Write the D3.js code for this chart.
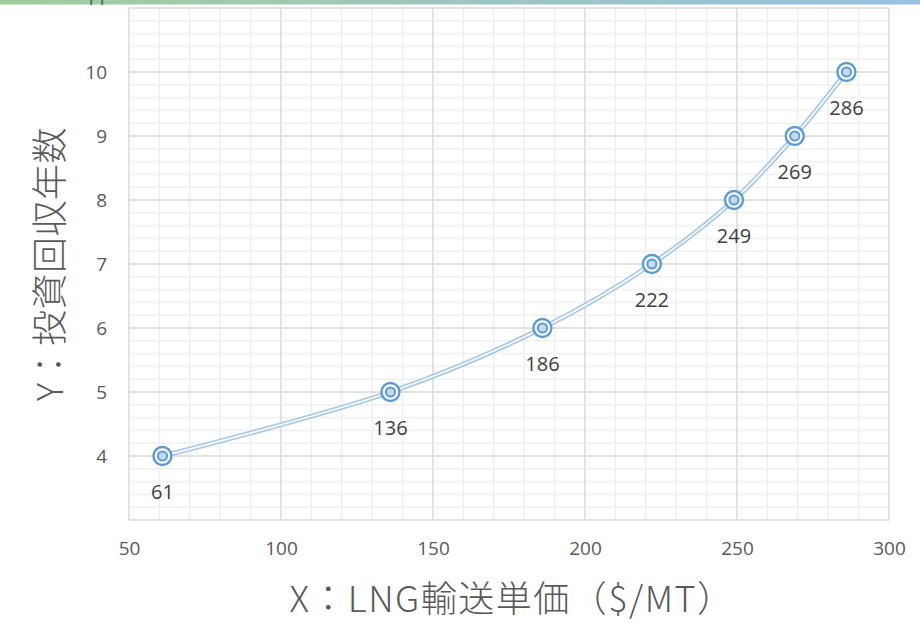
<!DOCTYPE html>
<html>
<head>
<meta charset="utf-8">
<script src="https://cdn.jsdelivr.net/npm/d3@7"></script>
<style>
  html, body { margin: 0; padding: 0; background: #fff; }
  svg { display: block; }
</style>
</head>
<body>
<svg id="chart" width="920" height="623"></svg>
<script>
// Transport unit price (X) and resulting payback years (Y)
const unitPrices = [61, 136, 186, 222, 249, 269, 286];
const paybackYears = [4, 5, 6, 7, 8, 9, 10];
const xTicks = [50, 100, 150, 200, 250, 300];
const yTicks = [4, 5, 6, 7, 8, 9, 10, 11];
const xTitle = "X：LNG輸送単価（$/MT）";
const yTitle = "Y：投資回収年数";

const svg = d3.select("#chart");
const W = 920, H = 623;
const plot = { left: 129, right: 889, top: 8, bottom: 520 };

const x = d3.scaleLinear().domain([50, 300]).range([plot.left, plot.right]);
const y = d3.scaleLinear().domain([3, 11]).range([plot.bottom, plot.top]);

// top banner gradient
const defs = svg.append("defs");
const grad = defs.append("linearGradient").attr("id", "banner").attr("x1", 0).attr("x2", 1);
grad.append("stop").attr("offset", 0).attr("stop-color", "#9dcf9b");
grad.append("stop").attr("offset", 1).attr("stop-color", "#9ac1e4");

// minor grid
const minorX = d3.range(50, 301, 10).filter(v => v % 50 !== 0);
const minorY = d3.range(3, 11.001, 0.2).map(v => +v.toFixed(1)).filter(v => Math.abs(v - Math.round(v)) > 1e-6);
const grid = svg.append("g");
grid.selectAll(".mx").data(minorX).join("line")
  .attr("x1", d => x(d)).attr("x2", d => x(d))
  .attr("y1", plot.top).attr("y2", plot.bottom)
  .attr("stroke", "#f0f0f0").attr("stroke-width", 1.5);
grid.selectAll(".my").data(minorY).join("line")
  .attr("x1", plot.left).attr("x2", plot.right)
  .attr("y1", d => y(d)).attr("y2", d => y(d))
  .attr("stroke", "#f0f0f0").attr("stroke-width", 1.5);
// major grid
grid.selectAll(".Mx").data(xTicks).join("line")
  .attr("x1", d => x(d)).attr("x2", d => x(d))
  .attr("y1", plot.top).attr("y2", plot.bottom)
  .attr("stroke", "#d9d9d9").attr("stroke-width", 1.5);
grid.selectAll(".My").data(d3.range(3, 12)).join("line")
  .attr("x1", plot.left).attr("x2", plot.right)
  .attr("y1", d => y(d)).attr("y2", d => y(d))
  .attr("stroke", "#d9d9d9").attr("stroke-width", 1.5);

// axes (labels only)
const xAxis = svg.append("g")
  .attr("transform", `translate(0,${plot.bottom})`)
  .call(d3.axisBottom(x).tickValues(xTicks).tickSize(0).tickPadding(22));
const yAxis = svg.append("g")
  .attr("transform", `translate(${plot.left},0)`)
  .call(d3.axisLeft(y).tickValues(yTicks).tickSize(0).tickPadding(22));
[xAxis, yAxis].forEach(a => {
  a.select(".domain").remove();
  a.selectAll("text")
    .attr("fill", "#595959")
    .style("font-family", "'Open Sans', 'Noto Sans', sans-serif")
    .style("font-size", "19px");
});
// the "11" label only peeks out from under the banner
yAxis.selectAll(".tick").filter(d => d === 11).remove();
const clip = defs.append("clipPath").attr("id", "topClip");
clip.append("rect").attr("x", 0).attr("y", 0).attr("width", W).attr("height", 5);

// smoothed series line (double stroke)
const pts = unitPrices.map((v, i) => [v, paybackYears[i]]);
const line = d3.line().x(d => x(d[0])).y(d => y(d[1])).curve(d3.curveCatmullRom.alpha(0.5));
svg.append("path").attr("d", line(pts)).attr("fill", "none")
  .attr("stroke", "#a6c8ea").attr("stroke-width", 5);
svg.append("path").attr("d", line(pts)).attr("fill", "none")
  .attr("stroke", "#ffffff").attr("stroke-width", 1.6);

// markers
const mk = svg.append("g").selectAll("g").data(pts).join("g")
  .attr("transform", d => `translate(${x(d[0])},${y(d[1])})`);
mk.append("circle").attr("r", 9).attr("fill", "#fff").attr("stroke", "#5b9bd5").attr("stroke-width", 2.4);
mk.append("circle").attr("r", 4.6).attr("fill", "#c5daf0").attr("stroke", "#5b9bd5").attr("stroke-width", 2);

// data labels
svg.append("g").selectAll("text").data(pts).join("text")
  .attr("x", d => x(d[0])).attr("y", d => y(d[1]) + 43)
  .attr("text-anchor", "middle")
  .attr("fill", "#404040")
  .style("font-family", "'Open Sans', 'Noto Sans', sans-serif")
  .style("font-size", "20px")
  .text(d => d[0]);

// banner
svg.append("rect").attr("x", 0).attr("y", 0).attr("width", W).attr("height", 4.5).attr("fill", "url(#banner)");
svg.append("text").attr("x", 107).attr("y", 5).attr("text-anchor", "end")
  .attr("clip-path", "url(#topClip)")
  .attr("fill", "#595959")
  .style("font-family", "'Open Sans', 'Noto Sans', sans-serif")
  .style("font-size", "19px")
  .text(yTicks[yTicks.length - 1]);

// axis titles
svg.append("text")
  .attr("x", 512).attr("y", 612)
  .attr("text-anchor", "middle")
  .attr("fill", "#595959")
  .style("font-family", "'Noto Sans CJK JP', sans-serif")
  .style("font-size", "36px")
  .style("font-weight", 300)
  .style("letter-spacing", "1.5px")
  .text(xTitle);
svg.append("text")
  .attr("transform", "translate(63,264) rotate(-90)")
  .attr("text-anchor", "middle")
  .attr("fill", "#595959")
  .style("font-family", "'Noto Sans CJK JP', sans-serif")
  .style("font-size", "36px")
  .style("font-weight", 300)
  .style("letter-spacing", "0.5px")
  .text(yTitle);
</script>
</body>
</html>
